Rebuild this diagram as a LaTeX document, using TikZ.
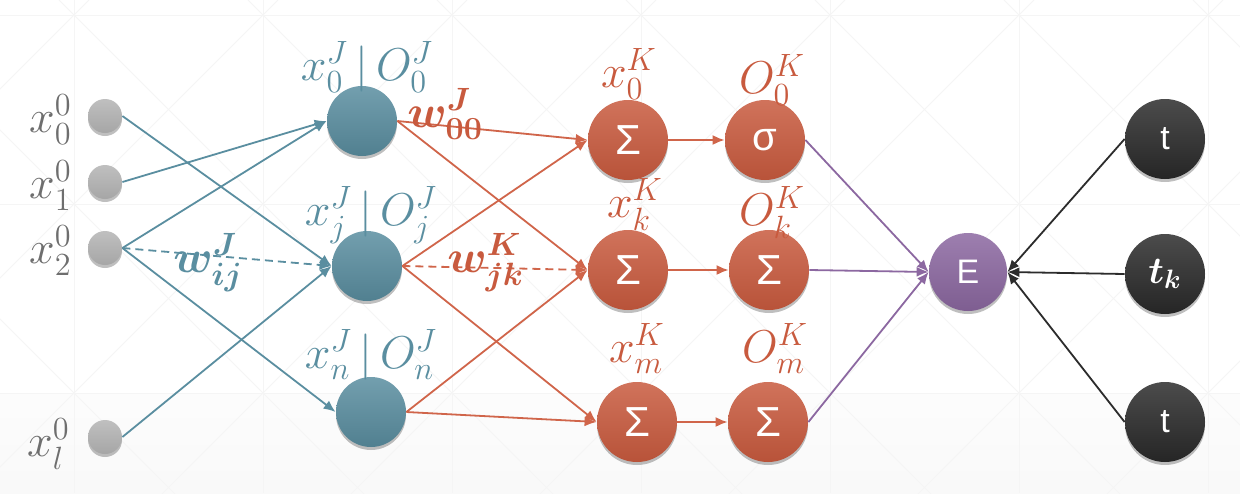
\RequirePackage{fix-cm}
\documentclass[tikz,border=0pt]{standalone}
\usepackage{fontspec}
\usepackage{amsmath}
\usepackage{bm}
\newfontfamily\nodefont{Liberation Sans}
\usetikzlibrary{arrows.meta,shadows}
\tikzset{>={Latex[length=6pt,width=5pt]}}
\definecolor{labelgray}{HTML}{6E6E6E}
\definecolor{hidblue}{HTML}{5A8EA0}
\definecolor{outred}{HTML}{C85A3E}
\definecolor{wirered}{HTML}{D0654A}
\definecolor{errpurple}{HTML}{8C68A1}
\definecolor{targetblack}{HTML}{2C2C2C}
\colorlet{bggrid}{gray!8}
\tikzset{
  neuron/.style = {
    circle, inner sep=0pt,
    drop shadow={shadow xshift=0pt,shadow yshift=-1.5pt,opacity=0.25,fill=black}
  },
  inputnode/.style = {neuron, minimum size=17pt, top color=gray!50, bottom color=gray!70},
  hiddennode/.style = {neuron, minimum size=35pt, top color=hidblue!85!white, bottom color=hidblue!90!black},
  sumnode/.style = {neuron, minimum size=40pt, top color=outred!85!white, bottom color=outred!92!black,
    text=white, font=\nodefont\fontsize{21}{25}\selectfont},
  errnode/.style = {neuron, minimum size=39pt, top color=errpurple!85!white, bottom color=errpurple!90!black,
    text=white, font=\nodefont\fontsize{17}{20}\selectfont},
  targetnode/.style = {neuron, minimum size=40pt, top color=targetblack!85!white, bottom color=targetblack!85!black,
    text=white, font=\nodefont\fontsize{17}{20}\selectfont},
  lbl/.style = {inner sep=0pt, font=\fontsize{23}{27}\selectfont},
  wire/.style = {line width=0.9pt, ->}
}

\begin{document}
\begin{tikzpicture}[x=0.5pt,y=-0.5pt]
  \useasboundingbox (0,0) rectangle (1240,493);
  % background
  \begin{scope}
    \clip (0,0) rectangle (1240,493);
    \fill[white] (0,0) rectangle (1240,493);
    \shade[top color=gray!2, bottom color=gray!5] (0,393) rectangle (1240,493);
    \foreach \X in {74,263,...,1208} {
      \draw[bggrid,line width=0.5pt] (\X,0) -- (\X,493);
    }
    \foreach \Y in {15,204,393} {
      \draw[bggrid,line width=0.5pt] (0,\Y) -- (1240,\Y);
    }
    \foreach \C in {-508,-319,...,1193} {
      \draw[bggrid,line width=0.5pt] (\C,0) -- ++(600,600);
    }
    \foreach \C in {89,278,...,1790} {
      \draw[bggrid,line width=0.5pt] (\C,0) -- ++(-600,600);
    }
  \end{scope}
  % input layer
  \node[inputnode] (x0) at (105,116) {};
  \node[inputnode] (x1) at (105,182) {};
  \node[inputnode] (x2) at (105,248) {};
  \node[inputnode] (xl) at (105,437) {};
  % hidden layer J
  \node[hiddennode] (J0) at (362,121) {};
  \node[hiddennode] (Jj) at (367,266) {};
  \node[hiddennode] (Jn) at (371,412) {};
  % layer K: sums and outputs
  \node[sumnode] (K0) at (628,140) {Σ};
  \node[sumnode] (Kk) at (628,270) {Σ};
  \node[sumnode] (Km) at (637,422) {Σ};
  \node[sumnode,font=\nodefont\fontsize{20}{24}\selectfont] (O0) at (765,140) {σ};
  \node[sumnode] (Ok) at (769,270) {Σ};
  \node[sumnode] (Om) at (768,422) {Σ};
  % error and targets
  \node[errnode] (E) at (968,272) {E};
  \node[targetnode] (t0) at (1165,139) {t};
  \node[targetnode,font=\fontsize{19}{22}\selectfont] (tk) at (1165,274) {$\bm{t}_{\bm{k}}$};
  \node[targetnode] (tm) at (1165,422) {t};
  % input -> J
  \draw[wire,hidblue] (x0.east) -- (Jj.west);
  \draw[wire,hidblue] (x1.east) -- (J0.west);
  \draw[wire,hidblue] (x2.east) -- (J0.west);
  \draw[wire,hidblue,dash pattern=on 4pt off 2.5pt] (x2.east) -- (Jj.west);
  \draw[wire,hidblue] (x2.east) -- (Jn.west);
  \draw[wire,hidblue] (xl.east) -- (Jj.west);
  % J -> K
  \draw[wire,wirered] (J0.east) -- (K0.west);
  \draw[wire,wirered] (J0.east) -- (Kk.west);
  \draw[wire,wirered] (Jj.east) -- (K0.west);
  \draw[wire,wirered,dash pattern=on 4pt off 2.5pt] (Jj.east) -- (Kk.west);
  \draw[wire,wirered] (Jj.east) -- (Km.west);
  \draw[wire,wirered] (Jn.east) -- (Kk.west);
  \draw[wire,wirered] (Jn.east) -- (Km.west);
  % sum -> output
  \draw[wire,wirered] (K0) -- (O0);
  \draw[wire,wirered] (Kk) -- (Ok);
  \draw[wire,wirered] (Km) -- (Om);
  % outputs and targets -> E
  \draw[wire,errpurple] (O0.east) -- (E.west);
  \draw[wire,errpurple] (Ok.east) -- (E.west);
  \draw[wire,errpurple] (Om.east) -- (E.west);
  \draw[wire,targetblack] (t0.west) -- (E.east);
  \draw[wire,targetblack] (tk.west) -- (E.east);
  \draw[wire,targetblack] (tm.west) -- (E.east);
  % labels
  \node[lbl,labelgray,anchor=base east] at (72,132) {$x_0^0$};
  \node[lbl,labelgray,anchor=base east] at (72,198) {$x_1^0$};
  \node[lbl,labelgray,anchor=base east] at (72,263) {$x_2^0$};
  \node[lbl,labelgray,anchor=base east] at (70,456) {$x_l^0$};
  \node[lbl,hidblue,anchor=base] at (367,80) {$x_0^J\,|\,O_0^J$};
  \node[lbl,hidblue,anchor=base] at (371,225) {$x_j^J\,|\,O_j^J$};
  \node[lbl,hidblue,anchor=base] at (371,368) {$x_n^J\,|\,O_n^J$};
  \node[lbl,outred,anchor=base] at (629,87) {$x_0^K$};
  \node[lbl,outred,anchor=base] at (772,93) {$O_0^K$};
  \node[lbl,outred,anchor=base] at (635,217) {$x_k^K$};
  \node[lbl,outred,anchor=base] at (772,225) {$O_k^K$};
  \node[lbl,outred,anchor=base] at (637,362) {$x_m^K$};
  \node[lbl,outred,anchor=base] at (775,362) {$O_m^K$};
  \node[lbl,hidblue,anchor=base west] at (173,272) {$\bm{w}^{\bm{J}}_{\bm{ij}}$};
  \node[lbl,outred,anchor=base west] at (407,127) {$\bm{w}^{\bm{J}}_{\bm{00}}$};
  \node[lbl,outred,anchor=base west] at (447,272) {$\bm{w}^{\bm{K}}_{\bm{jk}}$};
\end{tikzpicture}
\end{document}
